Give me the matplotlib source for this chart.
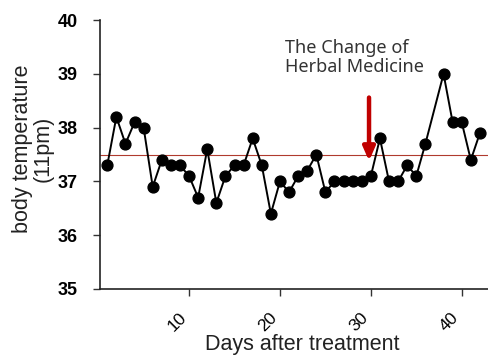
import numpy as np
import matplotlib
matplotlib.use('Agg')
import matplotlib.pyplot as plt

# Données (jour 37 absent)
jours = [1, 2, 3, 4, 5, 6, 7, 8, 9, 10, 11, 12, 13, 14, 15, 16, 17, 18, 19, 20, 21,
         22, 23, 24, 25, 26, 27, 28, 29, 30, 31, 32, 33, 34, 35, 36, 38, 39, 40, 41, 42]
temperature = [37.3, 38.2, 37.7, 38.1, 38.0, 36.9, 37.4, 37.3, 37.3, 37.1, 36.7,
               37.6, 36.6, 37.1, 37.3, 37.3, 37.8, 37.3, 36.4, 37.0, 36.8,
               37.1, 37.2, 37.5, 36.8, 37.0, 37.0, 37.0, 37.0, 37.1, 37.8,
               37.0, 37.0, 37.3, 37.1, 37.7, 39.0, 38.1, 38.1, 37.4, 37.9]
reference = 37.5
jour_changement = 29.8
x_ticks = [10, 20, 30, 40]
y_ticks = [35, 36, 37, 38, 39, 40]

plt.rcParams['font.family'] = ['Liberation Sans', 'DejaVu Sans']

fig = plt.figure(figsize=(4.89, 3.59), dpi=100)
ax = fig.add_axes([0.2045, 0.195, 0.7955, 0.749])

ax.axhline(reference, color='#b03a2e', linewidth=0.8, zorder=1)
ax.plot(jours, temperature, color='black', linewidth=1.4, marker='o',
        markersize=7.8, zorder=3)

# flèche du changement de médicament
ax.annotate('', xy=(jour_changement, 37.38), xytext=(jour_changement, 38.56),
            arrowprops=dict(arrowstyle='-|>,head_width=0.35,head_length=0.8',
                            color='#c00000', lw=3.2, shrinkA=0, shrinkB=0))
ax.text(20.6, 39.64, 'The Change of\nHerbal Medicine', fontsize=13,
        color='#333333', ha='left', va='top', linespacing=1.05,
        family=['Noto Sans', 'DejaVu Sans'])

ax.set_xlim(0.2, 43)
ax.set_ylim(35, 40)
ax.set_xticks(x_ticks)
ax.set_yticks(y_ticks)
ax.set_xticklabels([str(t) for t in x_ticks], rotation=45, ha='right',
                   rotation_mode='default', fontsize=12.5)
ax.set_yticklabels([str(t) for t in y_ticks], fontsize=13, fontweight='bold')
ax.tick_params(axis='both', direction='out', length=5, width=1, color='#333333')
ax.tick_params(axis='x', pad=10)
ax.tick_params(axis='y', pad=11)

for cote in ['top', 'right']:
    ax.spines[cote].set_visible(False)
for cote in ['left', 'bottom']:
    ax.spines[cote].set_linewidth(1.2)
    ax.spines[cote].set_color('#222222')

ax.set_xlabel('Days after treatment', fontsize=15.5, color='#222222')
ax.set_ylabel('body temperature\n(11pm)', fontsize=15.5, color='#222222',
              linespacing=0.95)
ax.xaxis.set_label_coords(0.52, -0.168)
ax.yaxis.set_label_coords(-0.12, 0.522)

fig.savefig('out.png', dpi=100)
